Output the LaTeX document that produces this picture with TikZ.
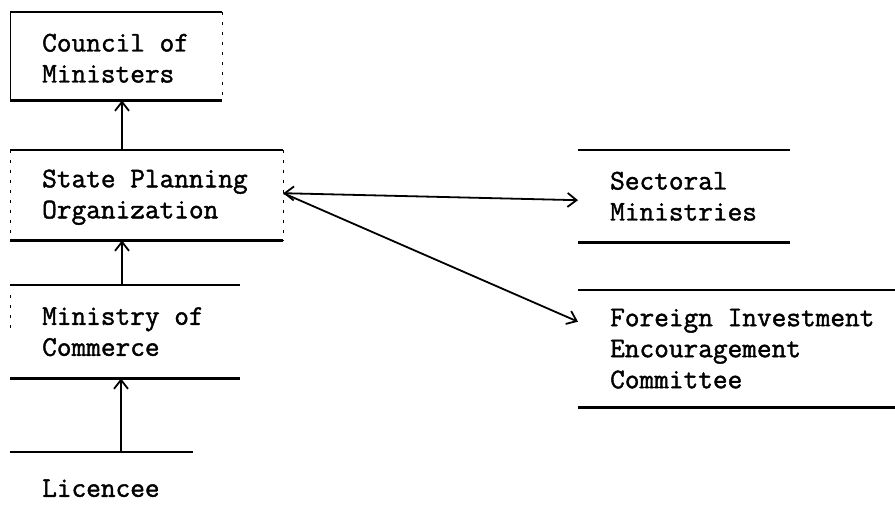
\documentclass[tikz,border=0pt]{standalone}
\usepackage{fontspec}
\newfontfamily\tw{Latin Modern Mono}[FakeBold=1.5]
\usetikzlibrary{arrows.meta,calc}
\begin{document}
\begin{tikzpicture}[x=1pt,y=-1pt,
  box/.style={rectangle, inner sep=0pt, anchor=north west},
  lbl/.style={inner sep=0pt, align=left, anchor=west,
    font=\tw\fontsize{28.5}{31}\selectfont},
  rule/.style={line width=2.8pt},
  side/.style={line width=1pt},
  dside/.style={line width=1pt, dash pattern=on 3pt off 7pt},
  conn/.style={line width=1.8pt, -{Straight Barb[length=9pt,width=14pt,line width=1.8pt]}},
  dconn/.style={line width=1.8pt, {Straight Barb[length=9pt,width=14pt,line width=1.8pt]}-{Straight Barb[length=9pt,width=14pt,line width=1.8pt]}}]
\useasboundingbox (0,0) rectangle (895,514);

\node[box, minimum width=212pt, minimum height=88pt] (council) at (10,12) {};
\node[box, minimum width=273pt, minimum height=90pt] (spo) at (10,150) {};
\node[box, minimum width=230pt, minimum height=93pt] (moc) at (10,285) {};
\node[box, minimum width=183pt, minimum height=68pt] (lic) at (10,452) {};
\node[box, minimum width=212pt, minimum height=92pt] (sect) at (578,150) {};
\node[box, minimum width=317pt, minimum height=117pt] (fiec) at (578,290) {};

\node[lbl] (councilT) at ($(council.west)+(32,2)$) {Council of\\Ministers};
\node[lbl] (spoT) at ($(spo.west)+(32,2)$) {State Planning\\Organization};
\node[lbl] (mocT) at ($(moc.west)+(32,0)$) {Ministry of\\Commerce};
\node[lbl] (licT) at ($(lic.west)+(32,2)$) {Licencee};
\node[lbl] (sectT) at ($(sect.west)+(32,0)$) {Sectoral\\Ministries};
\node[lbl] (fiecT) at ($(fiec.west)+(32,0)$) {Foreign Investment\\Encouragement\\Committee};

% horizontal rules
\foreach \n in {council,spo,moc,sect,fiec}{
  \draw[rule] (\n.north west) -- (\n.north east);
  \draw[rule] (\n.south west) -- (\n.south east);
}
\draw[rule] (lic.north west) -- (lic.north east);

% sides
\draw[side] (council.north west) -- (council.south west);
\draw[dside] (council.north east) -- (council.south east);
\draw[dside] (spo.north west) -- (spo.south west);
\draw[dside] (spo.north east) -- (spo.south east);
\draw[dside] ($(moc.north west)+(0,10)$) -- ($(moc.north west)+(0,45)$);

% connectors
\draw[conn] ($(spo.north west)+(112,0)$) -- ($(council.south west)+(112,0)$);
\draw[conn] ($(moc.north west)+(112,0)$) -- ($(spo.south west)+(112,0)$);
\draw[conn] ($(lic.north west)+(111,0)$) -- ($(moc.south west)+(111,0)$);
\coordinate (spoR) at ($(spo.east)+(0,-2)$);
\draw[dconn] (spoR) -- ($(sect.west)+(0,4)$);
\draw[conn] (spoR) -- ($(fiec.west)+(0,-27)$);
\end{tikzpicture}
\end{document}
